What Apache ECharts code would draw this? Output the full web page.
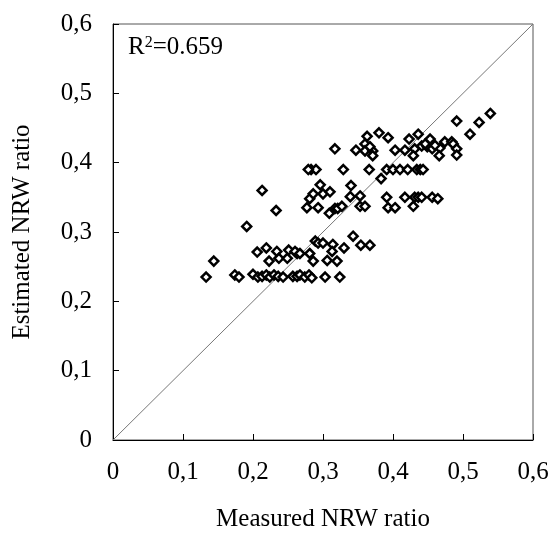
<!DOCTYPE html>
<html>
<head>
<meta charset="utf-8">
<script src="https://cdn.jsdelivr.net/npm/echarts@6/dist/echarts.min.js"></script>
<style>html,body{margin:0;padding:0;background:#fff}#c{width:552px;height:537px}</style>
</head>
<body>
<div id="c"></div>
<script>
// Measured NRW ratio (x) values
const measured = [
0.133,0.144,0.174,0.180,0.200,0.191,0.233,0.213,0.206,0.219,0.223,0.234,0.237,0.251,0.249,0.263,0.260,0.267,0.281,0.286,
0.306,0.320,0.289,0.293,0.300,0.314,0.313,0.330,0.343,0.354,0.367,
0.207,0.213,0.219,0.224,0.230,0.236,0.243,0.257,0.263,0.267,0.274,0.280,0.284,0.303,0.324,
0.277,0.293,0.309,0.317,0.321,0.327,0.353,0.360,0.393,0.403,
0.281,0.286,0.300,0.310,0.296,0.340,0.339,0.353,
0.283,0.290,0.279,0.329,0.366,0.391,0.400,0.410,0.421,0.434,0.439,0.443,0.383,
0.391,0.417,0.431,0.436,0.441,0.456,0.464,0.429,
0.317,0.347,0.360,0.360,0.371,0.371,0.363,0.380,0.393,0.403,0.417,0.431,0.423,0.436,0.441,0.449,0.456,0.453,0.467,0.474,
0.484,0.486,0.491,0.429,0.466,0.491,0.491,0.510,0.523,0.539,0.446,0.460,0.367
];
// Estimated NRW ratio (y) values
const estimated = [
0.235,0.258,0.238,0.235,0.239,0.308,0.331,0.360,0.271,0.277,0.258,0.272,0.262,0.274,0.262,0.269,0.272,0.269,0.269,0.258,
0.259,0.258,0.287,0.284,0.284,0.282,0.272,0.277,0.294,0.281,0.281,
0.235,0.236,0.238,0.235,0.238,0.236,0.235,0.236,0.236,0.238,0.235,0.238,0.234,0.235,0.235,
0.335,0.335,0.327,0.334,0.334,0.337,0.337,0.337,0.335,0.335,
0.348,0.355,0.355,0.358,0.368,0.367,0.351,0.352,
0.390,0.390,0.390,0.390,0.390,0.390,0.390,0.390,0.390,0.390,0.390,0.390,0.377,
0.350,0.350,0.350,0.350,0.350,0.350,0.348,0.337,
0.420,0.418,0.427,0.417,0.417,0.410,0.438,0.443,0.436,0.418,0.418,0.420,0.434,0.441,0.424,0.423,0.420,0.434,0.421,0.430,
0.430,0.427,0.420,0.410,0.410,0.411,0.460,0.441,0.458,0.471,0.427,0.425,0.423
];
const diagX = [0, 0.6];
const diagY = [0, 0.6];
const ticks = [0, 0.1, 0.2, 0.3, 0.4, 0.5, 0.6];
const xTitle = 'Measured NRW ratio';
const yTitle = 'Estimated NRW ratio';
const r2Value = '0.659';

const pts = measured.map((x, i) => [x, estimated[i]]);
const diag = diagX.map((x, i) => [x, diagY[i]]);
const fmt = v => {
  const t = ticks.find(k => Math.abs(k - v) < 1e-9);
  return (t === undefined ? v : t).toString().replace('.', ',');
};
const font = 'Liberation Serif';
const txt = {color: '#000', fontFamily: font, fontSize: 25};

const chart = echarts.init(document.getElementById('c'), null, {renderer: 'canvas'});
chart.setOption({
  animation: false,
  backgroundColor: '#fff',
  grid: {left: 113, top: 24, right: 19, bottom: 94, show: true, borderColor: '#555', borderWidth: 1},
  xAxis: {
    type: 'value', min: 0, max: 0.6, interval: 0.1,
    name: xTitle, nameLocation: 'middle', nameGap: 67, nameTextStyle: txt,
    axisLine: {lineStyle: {color: '#000', width: 1}},
    axisTick: {inside: true, length: 6, lineStyle: {color: '#000'}},
    axisLabel: Object.assign({margin: 20, formatter: fmt}, txt),
    splitLine: {show: false}
  },
  yAxis: {
    type: 'value', min: 0, max: 0.6, interval: 0.1,
    name: yTitle, nameLocation: 'middle', nameGap: 78, nameTextStyle: txt,
    axisLine: {lineStyle: {color: '#000', width: 1}},
    axisTick: {inside: true, length: 6, lineStyle: {color: '#000'}},
    axisLabel: Object.assign({margin: 21, formatter: fmt}, txt),
    splitLine: {show: false}
  },
  series: [
    {
      type: 'line', data: diag, showSymbol: false, symbol: 'none',
      lineStyle: {color: '#777', width: 1}, silent: true, z: 1
    },
    {
      type: 'scatter', data: pts, symbol: 'diamond', symbolSize: 9,
      itemStyle: {color: '#fff', borderColor: '#000', borderWidth: 2.5, opacity: 1}, z: 2
    }
  ],
  graphic: [{
    type: 'text', left: 128, top: 35,
    style: {
      text: '{a|R}{s|2}{a|=' + r2Value + '}',
      rich: {
        a: {fontFamily: font, fontSize: 25, color: '#000', verticalAlign: 'bottom'},
        s: {fontFamily: font, fontSize: 16, color: '#000', verticalAlign: 'top', padding: [0, 0, 8, 0]}
      }
    }
  }]
});
</script>
</body>
</html>
